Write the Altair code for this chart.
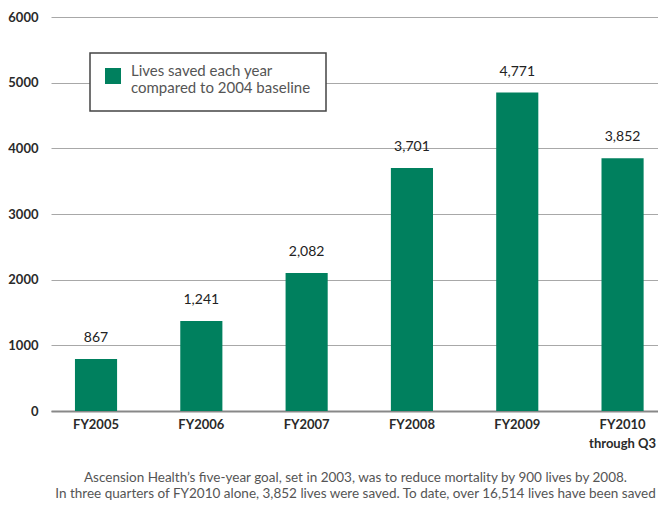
import altair as alt
import pandas as pd

FONT = "Lato"
GREEN = "#00805E"

categories = ["FY2005", "FY2006", "FY2007", "FY2008", "FY2009", "FY2010|through Q3"]
bar_values = [790, 1370, 2100, 3700, 4850, 3850]
value_labels = ["867", "1,241", "2,082", "3,701", "4,771", "3,852"]
series_name = "Lives saved each year|compared to 2004 baseline"
y_ticks = [0, 1000, 2000, 3000, 4000, 5000, 6000]
caption = [
    "Ascension Health\u2019s five-year goal, set in 2003, was to reduce mortality by 900 lives by 2008.",
    "In three quarters of FY2010 alone, 3,852 lives were saved. To date, over 16,514 lives have been saved",
]

df = pd.DataFrame({
    "category": categories,
    "value": bar_values,
    "label": value_labels,
    "series": [series_name] * len(categories),
})

x = alt.X(
    "category:N",
    sort=categories,
    title=None,
    scale=alt.Scale(paddingInner=0.6, paddingOuter=0.182, align=0.625),
    axis=alt.Axis(
        labelAngle=0,
        labelExpr="split(datum.label, '|')",
        labelFont=FONT,
        labelFontSize=13,
        labelFontWeight="bold",
        labelColor="#2a2a2a",
        labelPadding=7,
        labelLineHeight=19,
        ticks=False,
        domainColor="#888888",
        domainWidth=2,
        grid=False,
    ),
)

y = alt.Y(
    "value:Q",
    title=None,
    scale=alt.Scale(domain=[0, 6000], nice=False),
    axis=alt.Axis(
        values=y_ticks,
        labelFont=FONT,
        labelFontSize=13,
        labelFontWeight="bold",
        labelColor="#2a2a2a",
        labelPadding=13,
        ticks=False,
        domain=False,
        gridColor="#A8A8A8",
        gridWidth=1,
        format="d",
    ),
)

bars = alt.Chart(df).mark_bar().encode(
    x=x,
    y=y,
    color=alt.Color(
        "series:N",
        scale=alt.Scale(range=[GREEN]),
        legend=alt.Legend(
            title=None,
            orient="none",
            legendX=39,
            legendY=36,
            fillColor="white",
            strokeColor="#444444",
            padding=15,
            symbolType="square",
            symbolSize=256,
            symbolStrokeWidth=0,
            labelFont=FONT,
            labelFontSize=15,
            labelColor="#555555",
            labelOffset=10,
            labelLimit=400,
            labelBaseline="alphabetic",
            labelExpr="split(datum.label, '|')",
        ),
    ),
)

labels = alt.Chart(df).mark_text(
    dy=-17, baseline="alphabetic", font=FONT, fontSize=14, color="#222222"
).encode(
    x=alt.X("category:N", sort=categories),
    y=alt.Y("value:Q"),
    text="label:N",
)

chart = alt.layer(bars, labels).properties(
    width=607,
    height=394,
    autosize="none",
    padding={"left": 43, "top": 9, "right": 0, "bottom": 91},
    title=alt.Title(
        caption,
        orient="bottom",
        anchor="middle",
        font=FONT,
        fontSize=13.5,
        fontWeight="normal",
        color="#555555",
        lineHeight=15.5,
        offset=21,
        dx=1,
    ),
).configure_view(stroke=None).configure_legend(strokeWidth=1.5)

chart.save("out.html", embed_options={"renderer": "svg", "actions": False})
